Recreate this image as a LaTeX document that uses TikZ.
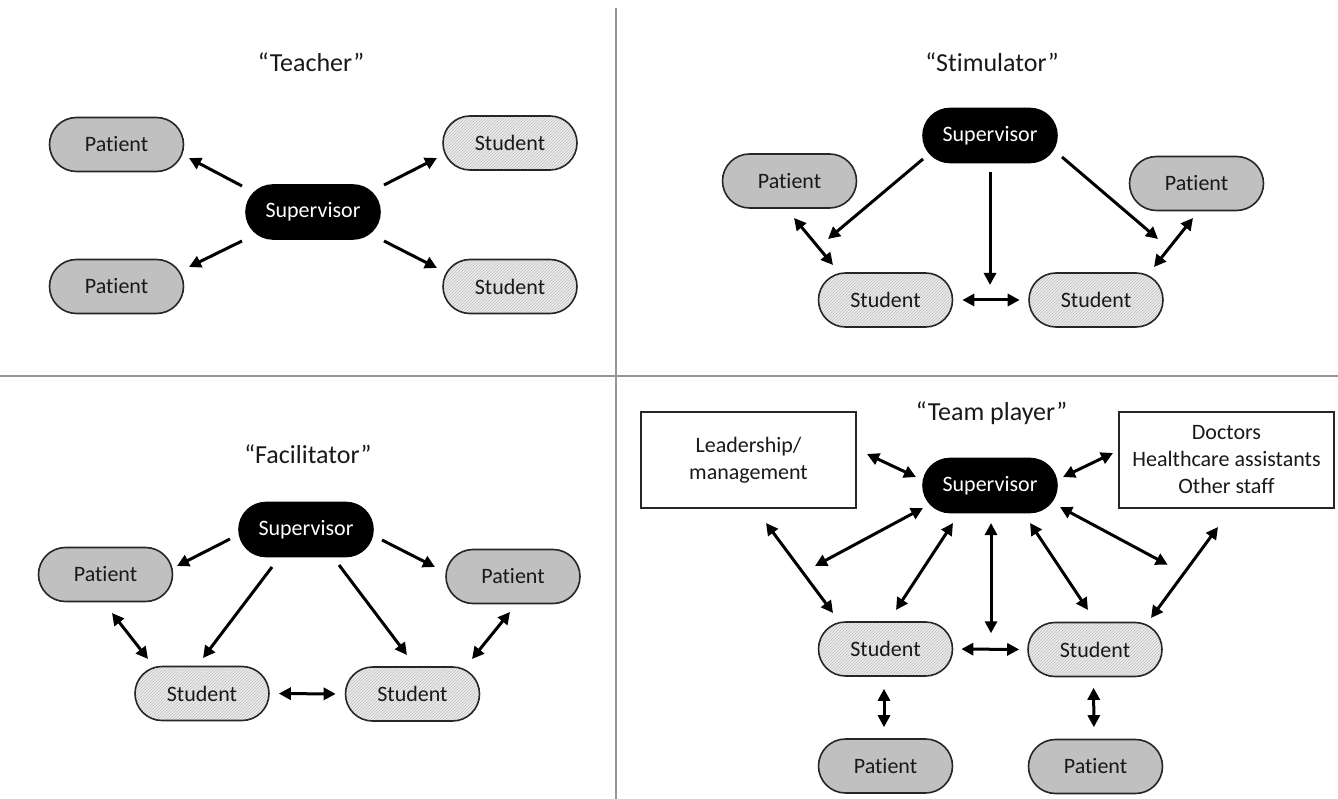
\documentclass[tikz,border=0pt]{standalone}
\usepackage{fontspec}
\setmainfont{Carlito}[Ligatures={NoCommon}]
\usetikzlibrary{arrows.meta,calc,patterns}
\definecolor{patfill}{RGB}{192,192,192}
\definecolor{stufill}{RGB}{236,236,236}
\definecolor{divider}{RGB}{150,150,150}
\begin{document}
\begin{tikzpicture}[x=1pt,y=-1pt,
  lbl/.style={font=\fontsize{22}{27}\selectfont, inner sep=0pt, align=center, text=black!90},
  pill/.style={lbl, draw=black!85, line width=1.6pt, minimum width=134pt, minimum height=54pt, rounded corners=27pt},
  patient/.style={pill, fill=patfill},
  student/.style={pill, preaction={fill=stufill}, pattern=north east lines, pattern color=black!25},
  super/.style={pill, fill=black, text=white, draw=black},
  staffbox/.style={lbl, draw=black!85, line width=1.6pt, fill=white, minimum width=215pt, minimum height=96pt},
  title/.style={font=\fontsize{26}{30}\selectfont, anchor=base, inner sep=0pt, text=black!90},
  arr/.style={line width=3pt, -{Triangle[length=12pt,width=12pt]}},
  darr/.style={line width=3pt, {Triangle[length=12pt,width=12pt]}-{Triangle[length=12pt,width=12pt]}},
  sep/.style={draw=divider, line width=1.5pt}
]
\useasboundingbox (0,0) rectangle (1338,799);
\fill[white] (0,0) rectangle (1338,799);
% dividers
\draw[sep] (616,8) -- (616,799);
\draw[sep] (0,376) -- (1338,376);

% ---------- Teacher ----------
\node[title] (t-title) at (311,72) {“Teacher”};
\node[super] (t-sup) at (313,212) {Supervisor};
\node[patient] (t-pat1) at (116.5,144.5) {Patient};
\node[patient] (t-pat2) at (116.5,286.5) {Patient};
\node[student] (t-stu1) at (510,143) {Student};
\node[student] (t-stu2) at (510,286.5) {Student};
\draw[arr] ($(t-sup)+(-71,-26)$) -- ($(t-pat1)+(72.5,13.5)$);
\draw[arr] ($(t-sup)+(-71,29)$) -- ($(t-pat2)+(72.5,-19.5)$);
\draw[arr] ($(t-sup)+(71,-27)$) -- ($(t-stu1)+(-73,15)$);
\draw[arr] ($(t-sup)+(71,29)$) -- ($(t-stu2)+(-73,-18.5)$);

% ---------- Stimulator ----------
\node[title] (s-title) at (992,72) {“Stimulator”};
\node[super] (s-sup) at (990,135.5) {Supervisor};
\node[patient] (s-pat1) at (789.5,181) {Patient};
\node[patient] (s-pat2) at (1196.5,183.5) {Patient};
\node[student] (s-stu1) at (885.5,300) {Student};
\node[student] (s-stu2) at (1096,300) {Student};
\coordinate (s-mid) at ($(s-stu1)!0.5!(s-stu2)+(-0.75,-15)$);
\draw[arr] ($(s-sup)+(-67,23.5)$) -- ($(s-stu1)+(-57.5,-61)$);
\draw[arr] ($(s-sup)+(0,36.5)$) -- (s-mid);
\draw[arr] ($(s-sup)+(72,21.5)$) -- ($(s-stu2)+(62,-61)$);
\draw[darr] ($(s-pat1)+(4.5,37)$) -- ($(s-stu1)+(-52.5,-35)$);
\draw[darr] ($(s-pat2)+(-3.5,34.5)$) -- ($(s-stu2)+(58,-33)$);
\draw[darr, shorten <=9pt, shorten >=8.5pt] (s-stu1.east) -- (s-stu2.west);

% ---------- Facilitator ----------
\node[title] (f-title) at (308,463) {“Facilitator”};
\node[super] (f-sup) at (306,529.5) {Supervisor};
\node[patient] (f-pat1) at (105.5,574.5) {Patient};
\node[patient] (f-pat2) at (513,576.5) {Patient};
\node[student] (f-stu1) at (202,693.5) {Student};
\node[student] (f-stu2) at (412.5,694) {Student};
\draw[arr] ($(f-sup)+(-76,9.5)$) -- ($(f-pat1)+(71.5,-8.5)$);
\draw[arr] ($(f-sup)+(-34,37.5)$) -- ($(f-stu1)+(1,-35.5)$);
\draw[arr] ($(f-sup)+(76,10.5)$) -- ($(f-pat2)+(-78,-9.5)$);
\draw[arr] ($(f-sup)+(33,35.5)$) -- ($(f-stu2)+(-5.5,-39)$);
\draw[darr] ($(f-pat1)+(6.5,38.5)$) -- ($(f-stu1)+(-54,-34.5)$);
\draw[darr] ($(f-pat2)+(-3,35.5)$) -- ($(f-stu2)+(59.5,-35)$);
\draw[darr, shorten <=9pt, shorten >=9pt] (f-stu1.east) -- (f-stu2.west);

% ---------- Team player ----------
\node[title] (p-title) at (991.5,420) {“Team player”};
\node[staffbox] (p-lead) at (748.5,460) {Leadership/\\management};
\node[staffbox] (p-doc) at (1226.5,460) {Doctors\\Healthcare assistants\\Other staff};
\node[super] (p-sup) at (990,485.5) {Supervisor};
\node[student] (p-stu1) at (885.5,649) {Student};
\node[student] (p-stu2) at (1095,649.5) {Student};
\node[patient] (p-pat1) at (885.5,766) {Patient};
\node[patient] (p-pat2) at (1095.5,766.5) {Patient};
\coordinate (p-fl) at ($(p-lead)!0.5!(p-stu1)+(-2,11.5)$);
\coordinate (p-fr) at ($(p-doc)!0.5!(p-stu2)+(7,10)$);
\coordinate (p-fm) at ($(p-stu1)!0.5!(p-stu2)+(0.75,-16)$);
\draw[darr] ($(p-lead)+(118.5,-6)$) -- ($(p-sup)+(-74,-8.5)$);
\draw[darr] ($(p-doc)+(-113.5,-7)$) -- ($(p-sup)+(73,-8.5)$);
\draw[darr] ($(p-sup)+(-67,22.5)$) -- (p-fl);
\draw[darr] ($(p-sup)+(70,21.5)$) -- (p-fr);
\draw[darr] ($(p-lead)+(17.5,63)$) -- ($(p-stu1)+(-52.5,-36)$);
\draw[darr] ($(p-doc)+(-8.5,67)$) -- ($(p-stu2)+(56,-31.5)$);
\draw[darr] ($(p-sup)+(-37,37.5)$) -- ($(p-stu1)+(10.5,-39)$);
\draw[darr] ($(p-sup)+(40,37.5)$) -- ($(p-stu2)+(-7,-39.5)$);
\draw[darr] ($(p-sup)+(1,37.5)$) -- (p-fm);
\draw[darr, shorten <=8pt, shorten >=8pt] (p-stu1.east) -- (p-stu2.west);
\draw[darr, shorten <=12pt, shorten >=11pt] ([xshift=-1.5pt]p-stu1.south) -- ([xshift=-1.5pt]p-pat1.north);
\draw[darr, shorten <=10.5pt, shorten >=11.5pt] ([xshift=-1.5pt]p-stu2.south) -- ([xshift=-1.5pt]p-pat2.north);
\end{tikzpicture}
\end{document}
